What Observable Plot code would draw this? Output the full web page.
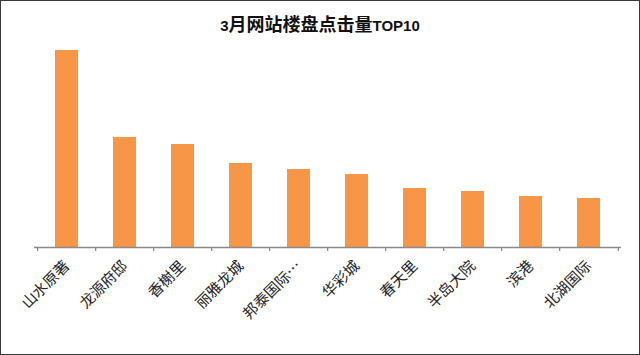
<!DOCTYPE html>
<html>
<head>
<meta charset="utf-8">
<script src="https://cdn.jsdelivr.net/npm/d3@7"></script>
<script src="https://cdn.jsdelivr.net/npm/@observablehq/plot@0.6"></script>
<style>
  html, body { margin: 0; padding: 0; background: #fff; }
  #wrap { width: 640px; height: 355px; box-sizing: border-box; border: 1px solid #3a3a3a; position: relative; overflow: hidden; font-family: "Noto Sans CJK SC", sans-serif; }
  #title { height: 42px; line-height: 44px; text-align: center; font-weight: bold; color: #111; font-size: 18px; }
  #title .lat { font-size: 15px; font-family: "Liberation Sans", sans-serif; }
  svg { display: block; }
</style>
</head>
<body>
<div id="wrap">
  <div id="title"><span class="lat">3</span>月网站楼盘点击量<span class="lat">TOP10</span></div>
  <div id="chart"></div>
</div>
<script>
const categories = ["山水原著", "龙源府邸", "香榭里", "丽雅龙城", "邦泰国际…", "华彩城", "春天里", "半岛大院", "滨港", "北湖国际"];
const clicks = [197, 110, 103, 84, 78, 73, 59, 56, 51, 49];

const data = categories.map((name, i) => ({name, value: clicks[i]}));

const width = 638, height = 311;
const marginLeft = 33, marginRight = 18, marginTop = 7, marginBottom = 107;
const step = (width - marginLeft - marginRight) / categories.length;
const axisColor = "#8a8a8a";

const chart = Plot.plot({
  width, height, marginLeft, marginRight, marginTop, marginBottom,
  style: {fontFamily: "'Noto Sans CJK SC', sans-serif", background: "#fff"},
  x: {domain: categories, paddingInner: 0.6, paddingOuter: 0.3},
  y: {domain: [0, d3.max(clicks)], axis: null},
  marks: [
    Plot.barY(data, {x: "name", y: "value", fill: "#F79646"}),
    Plot.ruleY([0], {stroke: axisColor, strokeWidth: 1.3}),
    Plot.ruleX(categories, {x: d => d, y1: 0, y2: 0, insetBottom: -4, dx: -step / 2, stroke: axisColor, strokeWidth: 1.3}),
    Plot.ruleX(categories.slice(-1), {x: d => d, y1: 0, y2: 0, insetBottom: -4, dx: step / 2, stroke: axisColor, strokeWidth: 1.3}),
    Plot.axisX({tickSize: 0, tickPadding: 16, tickRotate: -45, fontSize: 15, fill: "#222", label: null})
  ]
});
document.getElementById("chart").appendChild(chart);
</script>
</body>
</html>
